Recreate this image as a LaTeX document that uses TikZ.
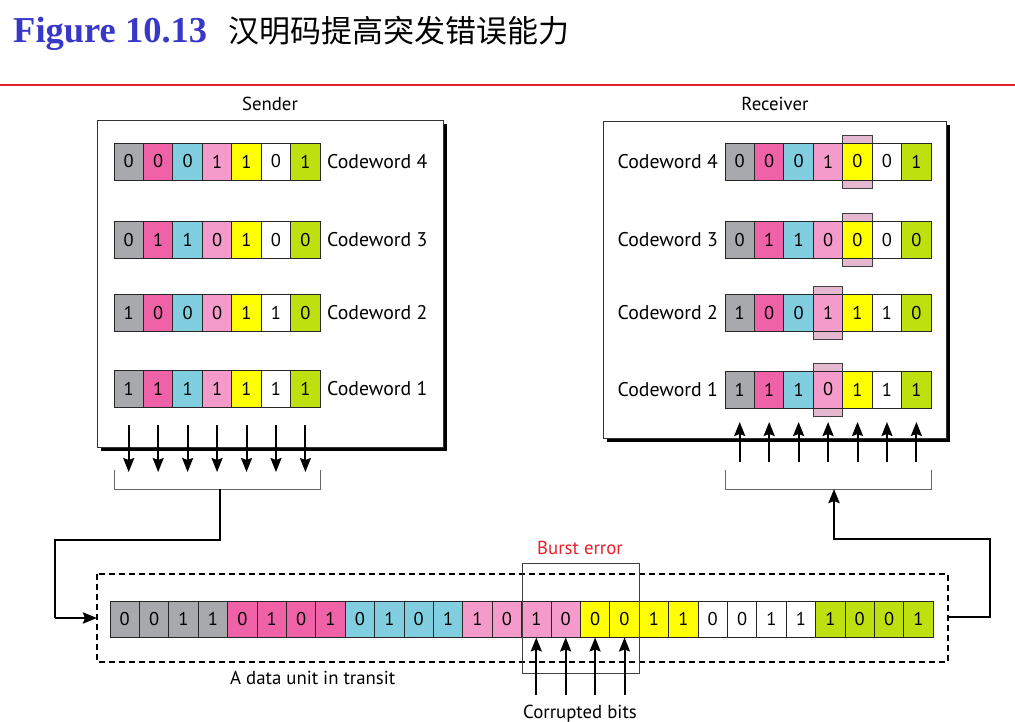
\documentclass[tikz,border=0pt]{standalone}
\usepackage{fontspec}
\setsansfont{PT Sans}
\newfontfamily\cjk{Noto Sans CJK SC}
\newfontfamily\titlefont{Liberation Serif}
\usetikzlibrary{arrows.meta}
\definecolor{titleblue}{HTML}{3838C8}
\definecolor{rulered}{HTML}{E8202A}
\definecolor{col1}{HTML}{A7A9AC}
\definecolor{col2}{HTML}{F062A8}
\definecolor{col3}{HTML}{80CEE0}
\definecolor{col4}{HTML}{F59BCB}
\definecolor{col5}{HTML}{FFFF00}
\definecolor{col6}{HTML}{FFFFFF}
\definecolor{col7}{HTML}{BFE00F}
\definecolor{hl}{HTML}{E6B8D0}
\definecolor{burstred}{HTML}{E8202A}
\tikzset{
  cell/.style={draw=black!85, line width=0.9, minimum width=29.45, minimum height=37, inner sep=0, anchor=center, font=\sffamily\fontsize{18.5}{18.5}\selectfont},
  dcell/.style={cell, minimum width=29.4, minimum height=36},
  lbl/.style={font=\sffamily\fontsize{19.8}{20}\selectfont, inner sep=0},
  small/.style={font=\sffamily\fontsize{18.8}{19}\selectfont, inner sep=0},
  arr/.style={line width=2, -{Stealth[length=14,width=11,inset=2]}},
  conn/.style={line width=2.6, -{Stealth[length=14,width=11,inset=2]}},
  brk/.style={draw=black!60, line width=1},
  hlbox/.style={draw=black!75, fill=hl, line width=0.9},
}
\begin{document}
\begin{tikzpicture}[x=1pt,y=-1pt]
\useasboundingbox (0,0) rectangle (1015,722);
% title
\node[anchor=base west, text=titleblue, font=\titlefont\bfseries\fontsize{36.5}{37}\selectfont, inner sep=0] (fig) at (13,43) {Figure 10.13};
\node[anchor=base west, font=\cjk\fontsize{31}{31}\selectfont, inner sep=0] (ttl) at (228,43) {汉明码提高突发错误能力};
\draw[rulered, line width=2] (0,85) -- (1015,85);

% sender box
\node[small] (sendlbl) at (270,104) {Sender};
\fill[black] (101,124) rectangle (446.5,450.5);
\draw[black!80, fill=white, line width=0.9] (97,120) rectangle (443,447);
% receiver box
\node[small] (reclbl) at (775,104) {Receiver};
\fill[black] (607,125) rectangle (950,441.5);
\draw[black!80, fill=white, line width=0.9] (603,121) rectangle (946.5,438);

% sender rows
\foreach \r/\yc/\bits in {4/161.5/{0,0,0,1,1,0,1}, 3/240/{0,1,1,0,1,0,0}, 2/313/{1,0,0,0,1,1,0}, 1/389/{1,1,1,1,1,1,1}}{
  \foreach \b [count=\i] in \bits {
    \node[cell, fill=col\i] (s\r c\i) at ({114+(\i-0.5)*29.45},\yc) {\b};
  }
  \node[lbl, anchor=west] (sl\r) at (327,\yc) {Codeword \r};
}
% receiver highlights
\foreach \r/\yc/\k in {4/161.5/5, 3/240/5, 2/313/4, 1/389.5/4}{
  \draw[hlbox] ({725+(\k-1)*29.45},\yc-26.5) rectangle ({725+\k*29.45},\yc+26.5);
}
% receiver rows
\foreach \r/\yc/\bits in {4/161.5/{0,0,0,1,0,0,1}, 3/240/{0,1,1,0,0,0,0}, 2/313/{1,0,0,1,1,1,0}, 1/389.5/{1,1,1,0,1,1,1}}{
  \foreach \b [count=\i] in \bits {
    \node[cell, fill=col\i] (r\r c\i) at ({725+(\i-0.5)*29.45},\yc) {\b};
  }
  \node[lbl, anchor=east] (rl\r) at (718,\yc) {Codeword \r};
}

% sender arrows and bracket
\foreach \i in {1,...,7}{
  \coordinate (sa\i) at ({114+(\i-0.5)*29.45},425);
  \coordinate (sb\i) at ({114+(\i-0.5)*29.45},472);
  \draw[arr] (sa\i) -- (sb\i);
}
\draw[brk] (114,470) -- (114,489) coordinate (sbl) -- (320,489) coordinate (sbr) -- (320,470);
\coordinate (sbm) at (220,489);
% receiver arrows and bracket
\foreach \i in {1,...,7}{
  \coordinate (ra\i) at ({725+(\i-0.5)*29.45},462);
  \coordinate (rb\i) at ({725+(\i-0.5)*29.45},422);
  \draw[arr] (ra\i) -- (rb\i);
}
\draw[brk] (725,470) -- (725,489) coordinate (rbl) -- (931,489) coordinate (rbr) -- (931,470);
\coordinate (rbm) at (834,489);

% dashed transit box
\draw[line width=1.7, dash pattern=on 6pt off 4pt] (97,574) rectangle (948,662);
\node[small, anchor=base west] (transit) at (230,684) {A data unit in transit};

% data unit
\foreach \b [count=\i] in {0,0,1,1,0,1,0,1,0,1,0,1,1,0,1,0,0,0,1,1,0,0,1,1,1,0,0,1}{
  \pgfmathtruncatemacro{\g}{int((\i+3)/4)}
  \node[dcell, fill=col\g] (d\i) at ({110+(\i-0.5)*29.4},619) {\b};
}
% burst error box
\draw[black!75, line width=1] (522,563) rectangle (639,673);
\node[small, text=burstred, anchor=base] (burst) at (580,554) {Burst error};
\node[small, anchor=base] (corr) at (580,718) {Corrupted bits};
\foreach \i in {15,16,17,18}{
  \coordinate (cb\i) at ({110+(\i-0.5)*29.4},695);
  \draw[arr] (cb\i) -- (d\i.south);
}

% connectors
\coordinate (dl) at (97,618);
\coordinate (dr) at (948,617);
\draw[line width=2.6] (sbm) -- (220,540) -- (55,540) -- (55,618);
\draw[conn] (55,618) -- (dl);
\draw[conn] (dr) -- (990,617) -- (990,539) -- (834,539) -- (rbm);
\end{tikzpicture}
\end{document}
